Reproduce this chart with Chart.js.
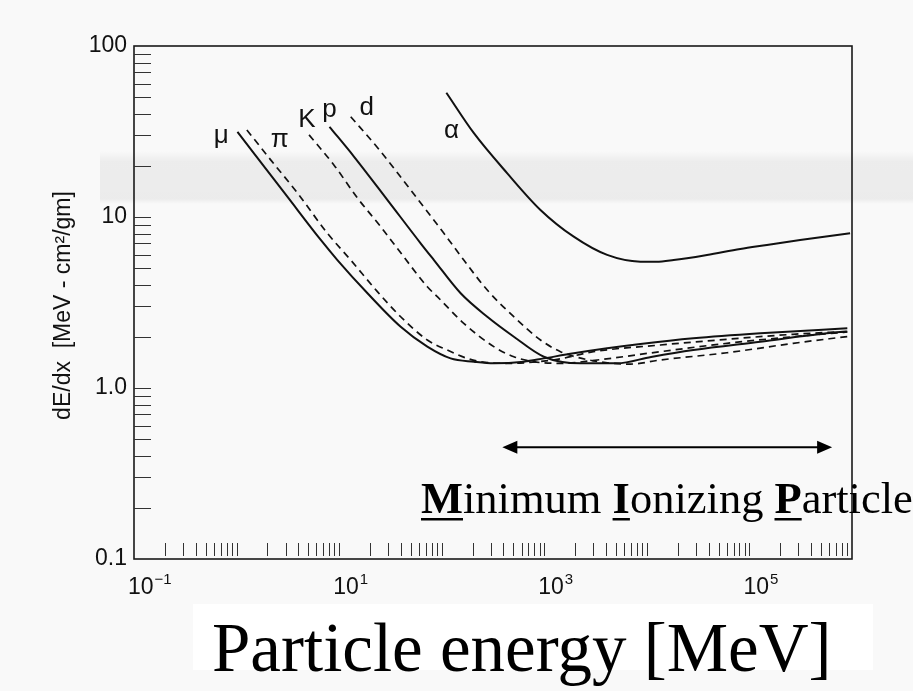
<!DOCTYPE html>
<html><head><meta charset="utf-8">
<script src="https://cdn.jsdelivr.net/npm/chart.js@4"></script>
<style>
html,body{margin:0;padding:0;background:#f8f8f8;}
canvas{display:block;}
</style></head>
<body>
<canvas id="c" width="913" height="691"></canvas>
<script>
// ---- data (kinetic energy in MeV, dE/dx in MeV-cm2/gm) ----
const muEnergy  = [1.02, 3.14, 6.62, 9.62, 18.9, 39.8, 72.4, 122, 206, 322, 632, 989, 1937, 4099, 8645, 28370, 127400, 900000];
const muDEdx    = [31.5, 13.1, 7.34, 5.60, 3.58, 2.28, 1.745, 1.49, 1.425, 1.394, 1.425, 1.49, 1.596, 1.707, 1.809, 1.953, 2.089, 2.234];
const piEnergy  = [1.26, 2.16, 3.93, 7.69, 12.97, 23.6, 39.8, 72.4, 113, 177, 239, 436, 1336, 3013, 13540, 60400, 267000, 900000];
const piDEdx    = [32.3, 21.5, 13.8, 8.03, 5.60, 3.66, 2.61, 1.909, 1.668, 1.49, 1.425, 1.394, 1.47, 1.631, 1.784, 1.927, 2.061, 2.14];
const kEnergy   = [5.09, 8.92, 15.1, 25.4, 41.3, 72.4, 90.6, 164, 322, 505, 785, 1439, 3273, 13540, 60400, 267000, 900000];
const kDEdx     = [30.2, 20.1, 12.9, 8.78, 6.0, 3.91, 3.42, 2.39, 1.745, 1.524, 1.425, 1.394, 1.458, 1.631, 1.825, 1.995, 2.126];
const pEnergy   = [8.05, 14.0, 29.5, 62.3, 84, 153, 278, 505, 989, 2252, 5130, 11000, 28370, 127400, 568000, 900000];
const pDEdx     = [33.7, 22.5, 12.6, 7.02, 5.60, 3.58, 2.61, 1.995, 1.524, 1.394, 1.394, 1.52, 1.668, 1.866, 2.089, 2.14];
const dEnergy   = [12.97, 23.6, 49.8, 105, 164, 278, 505, 918, 1439, 2700, 6900, 13540, 60400, 267000, 900000];
const dDEdx     = [38.6, 25.5, 14.4, 8.03, 5.6, 3.74, 2.61, 1.909, 1.631, 1.46, 1.38, 1.458, 1.608, 1.825, 2.0];
const alphaEnergy = [111, 206, 436, 918, 1937, 4099, 8645, 12380, 18250, 38550, 81400, 148000, 312000, 958000];
const alphaDEdx   = [53.3, 30.9, 18.0, 11.0, 7.67, 6.0, 5.48, 5.47, 5.60, 6.0, 6.5, 6.86, 7.34, 8.03];

const curveNames       = ['μ', 'π', 'K', 'p', 'd', 'α'];
const curveLabelEnergy = [0.6, 2.15, 4.0, 6.85, 15.8, 105];
const curveLabelDEdx   = [27.1, 25.8, 33.7, 38.4, 39.5, 28.9];

const xDecades       = [0.1, 1, 10, 100, 1000, 10000, 100000, 1000000];
const xTickValues    = [0.1, 10, 1000, 100000];
const xTickExponents = ['\u22121', '1', '3', '5'];
const yTickValues    = [0.1, 1, 10, 100];
const yTickLabels    = ['0.1', '1.0', '10', '100'];

const mipRange = [390, 640000];
const mipLevel = 0.45;

const yTitle = 'dE/dx  [MeV - cm\u00B2/gm]';
const xTitle = 'Particle energy [MeV]';

// ---- build ----
const pts = (xs, ys) => xs.map((x, i) => ({x: x, y: ys[i]}));
const INK = '#111111';
function ds(name, xs, ys, dashed) {
  return {
    label: name, data: pts(xs, ys), borderColor: INK,
    borderWidth: dashed ? 1.7 : 2.0, borderDash: dashed ? [7, 5] : [],
    pointRadius: 0, fill: false, cubicInterpolationMode: 'monotone'
  };
}
const datasets = [
  ds('μ', muEnergy, muDEdx, false),
  ds('π', piEnergy, piDEdx, true),
  ds('K', kEnergy, kDEdx, true),
  ds('p', pEnergy, pDEdx, false),
  ds('d', dEnergy, dDEdx, true),
  ds('α', alphaEnergy, alphaDEdx, false)
];

const SANS = '"Liberation Sans", Arial, sans-serif';
const SERIF = '"Liberation Serif", "Times New Roman", serif';

const decor = {
  id: 'decor',
  beforeDraw(chart) {
    const ctx = chart.ctx;
    ctx.save();
    ctx.fillStyle = '#f9f9f9';
    ctx.fillRect(0, 0, chart.width, chart.height);
    // faint scan band
    const g = ctx.createLinearGradient(0, 151, 0, 204);
    g.addColorStop(0, 'rgba(0,0,0,0)');
    g.addColorStop(0.2, 'rgba(0,0,0,0.05)');
    g.addColorStop(0.9, 'rgba(0,0,0,0.055)');
    g.addColorStop(1, 'rgba(0,0,0,0)');
    ctx.fillStyle = g;
    ctx.fillRect(100, 151, chart.width - 100, 53);
    // white box behind axis title
    ctx.fillStyle = '#ffffff';
    ctx.fillRect(193, 604, 680, 66);
    ctx.restore();
  },
  afterDraw(chart) {
    const ctx = chart.ctx, ca = chart.chartArea;
    const xs = chart.scales.x, ys = chart.scales.y;
    ctx.save();
    // frame
    ctx.strokeStyle = '#1a1a1a';
    ctx.lineWidth = 1.6;
    ctx.strokeRect(ca.left, ca.top, ca.right - ca.left, ca.bottom - ca.top);
    // minor ticks
    ctx.lineWidth = 1;
    ctx.strokeStyle = '#333';
    ctx.beginPath();
    for (let k = -1; k <= 5; k++) {
      for (let m = 1; m <= 9; m++) {
        const v = m * Math.pow(10, k);
        if (k === -1 && m === 1) continue;
        const px = Math.round(xs.getPixelForValue(v)) + 0.5;
        ctx.moveTo(px, ca.bottom - 3);
        ctx.lineTo(px, ca.bottom - 16);
      }
    }
    for (let k = -1; k <= 1; k++) {
      for (let m = 1; m <= 9; m++) {
        const v = m * Math.pow(10, k);
        if (k === -1 && m === 1) continue;
        const py = Math.round(ys.getPixelForValue(v)) + 0.5;
        ctx.moveTo(ca.left, py);
        ctx.lineTo(ca.left + 17, py);
      }
    }
    ctx.stroke();
    // x tick labels with superscripts
    ctx.fillStyle = '#111';
    ctx.textBaseline = 'alphabetic';
    ctx.textAlign = 'left';
    xTickValues.forEach((v, i) => {
      const px = xs.getPixelForValue(v);
      const x0 = px - 6;
      ctx.font = '23px ' + SANS;
      ctx.fillText('10', x0, ca.bottom + 35);
      const w = ctx.measureText('10').width;
      ctx.font = '15px ' + SANS;
      ctx.fillText(xTickExponents[i], x0 + w + 1, ca.bottom + 25);
    });
    // curve labels
    ctx.font = '26px ' + SANS;
    curveNames.forEach((n, i) => {
      ctx.fillText(n, xs.getPixelForValue(curveLabelEnergy[i]), ys.getPixelForValue(curveLabelDEdx[i]));
    });
    // y title
    ctx.save();
    ctx.translate(64, (ca.top + ca.bottom) / 2 + 3);
    ctx.rotate(-Math.PI / 2);
    ctx.textAlign = 'center';
    ctx.textBaseline = 'middle';
    ctx.font = '23px ' + SANS;
    ctx.fillText(yTitle, 0, 0);
    ctx.restore();
    // MIP arrow
    const ay = ys.getPixelForValue(mipLevel);
    const ax1 = xs.getPixelForValue(mipRange[0]);
    const ax2 = xs.getPixelForValue(mipRange[1]);
    ctx.strokeStyle = '#000';
    ctx.fillStyle = '#000';
    ctx.lineWidth = 2;
    ctx.beginPath();
    ctx.moveTo(ax1 + 8, ay); ctx.lineTo(ax2 - 8, ay);
    ctx.stroke();
    ctx.beginPath();
    ctx.moveTo(ax1, ay); ctx.lineTo(ax1 + 15, ay - 6.5); ctx.lineTo(ax1 + 15, ay + 6.5); ctx.closePath();
    ctx.moveTo(ax2, ay); ctx.lineTo(ax2 - 15, ay - 6.5); ctx.lineTo(ax2 - 15, ay + 6.5); ctx.closePath();
    ctx.fill();
    // "Minimum Ionizing Particle"
    const parts = [['M', true], ['inimum ', false], ['I', true], ['onizing ', false], ['P', true], ['article', false]];
    let tx = 421, tyb = 513;
    parts.forEach(([t, b]) => {
      ctx.font = (b ? 'bold ' : '') + '44.5px ' + SERIF;
      ctx.fillText(t, tx, tyb);
      const w = ctx.measureText(t).width;
      if (b) ctx.fillRect(tx, tyb + 5, w, 2.5);
      tx += w;
    });
    // x title
    ctx.font = '69px ' + SERIF;
    ctx.fillText(xTitle, 212, 671);
    ctx.restore();
  }
};

new Chart(document.getElementById('c'), {
  type: 'line',
  data: { datasets: datasets },
  options: {
    responsive: false,
    animation: false,
    devicePixelRatio: 1,
    layout: { padding: { left: 0, right: 61, top: 46, bottom: 92 } },
    plugins: { legend: { display: false }, tooltip: { enabled: false } },
    scales: {
      x: {
        type: 'logarithmic', min: 0.1, max: 1e6,
        grid: { display: false, drawTicks: false },
        border: { display: false },
        ticks: { display: false },
        afterBuildTicks: s => { s.ticks = xDecades.map(v => ({value: v})); },
        afterFit: s => { s.height = 40; }
      },
      y: {
        type: 'logarithmic', min: 0.1, max: 100,
        grid: { display: false, drawTicks: false },
        border: { display: false },
        ticks: {
          font: { family: SANS, size: 23 }, color: '#111', padding: 7,
          callback: v => { const i = yTickValues.indexOf(v); return i >= 0 ? yTickLabels[i] : ''; }
        },
        afterBuildTicks: s => { s.ticks = yTickValues.map(v => ({value: v})); },
        afterFit: s => { s.width = 134; }
      }
    }
  },
  plugins: [decor]
});
</script>
</body></html>
